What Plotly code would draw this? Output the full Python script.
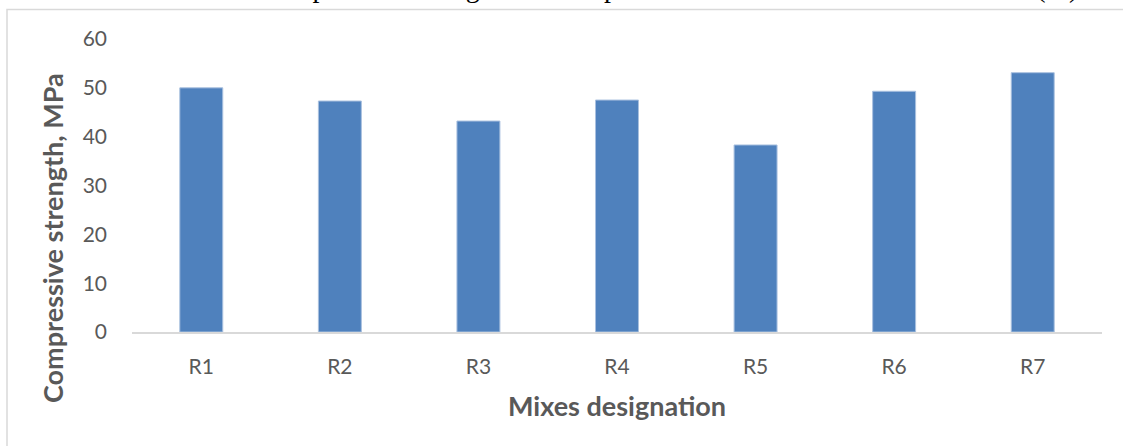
import plotly.graph_objects as go

# Mix designations and their compressive strength (MPa)
mixes = ["R1", "R2", "R3", "R4", "R5", "R6", "R7"]
strength = [50.0, 47.3, 43.2, 47.5, 38.3, 49.3, 53.1]
y_ticks = [0, 10, 20, 30, 40, 50, 60]

W, H = 1123, 446
L, R, T, B = 132, 21, 39, 114
pw, ph = W - L - R, H - T - B


def px_x(x):
    return (x - L) / pw


def px_y(y):
    return (H - B - y) / ph


fig = go.Figure(
    go.Bar(
        x=mixes,
        y=strength,
        width=0.31,
        marker=dict(color="#4f81bd", line=dict(color="#a9c0df", width=1)),
    )
)

fig.update_layout(
    width=W,
    height=H,
    margin=dict(l=L, r=R, t=T, b=B, pad=0),
    paper_bgcolor="white",
    plot_bgcolor="white",
    showlegend=False,
    font=dict(family="Lato", color="#595959"),
    xaxis=dict(
        showgrid=False,
        showline=True,
        linecolor="#d9d9d9",
        linewidth=2,
        ticks="",
        tickfont=dict(size=21, color="#595959"),
        ticklabelstandoff=15,
        zeroline=False,
    ),
    yaxis=dict(
        range=[0, 60],
        tickvals=y_ticks,
        showgrid=False,
        showline=False,
        zeroline=False,
        ticks="",
        tickfont=dict(size=21, color="#595959"),
        ticklabelstandoff=24,
    ),
    shapes=[
        dict(
            type="rect", xref="paper", yref="paper",
            x0=px_x(7), x1=px_x(1135), y0=px_y(470), y1=px_y(9.5),
            line=dict(color="#d9d9d9", width=1.5), fillcolor="rgba(0,0,0,0)",
            layer="below",
        )
    ],
    annotations=[
        dict(
            text="<b>Mixes designation</b>", xref="paper", yref="paper",
            x=px_x(617), y=px_y(405), showarrow=False,
            font=dict(size=27, color="#595959"), xanchor="center", yanchor="middle",
        ),
        dict(
            text="<b>Compressive strength, MPa</b>", xref="paper", yref="paper",
            x=px_x(52), y=px_y(238), showarrow=False, textangle=-90,
            font=dict(size=27, color="#595959"), xanchor="center", yanchor="middle",
        ),
        dict(
            text="Compressive strength and comparison with the reference mixture R1 (%)",
            xref="paper", yref="paper", x=px_x(256), y=px_y(-13),
            showarrow=False, xanchor="left", yanchor="middle",
            font=dict(family="Liberation Serif", size=28, color="black"),
        ),
    ],
)

fig.write_html("out.html")
